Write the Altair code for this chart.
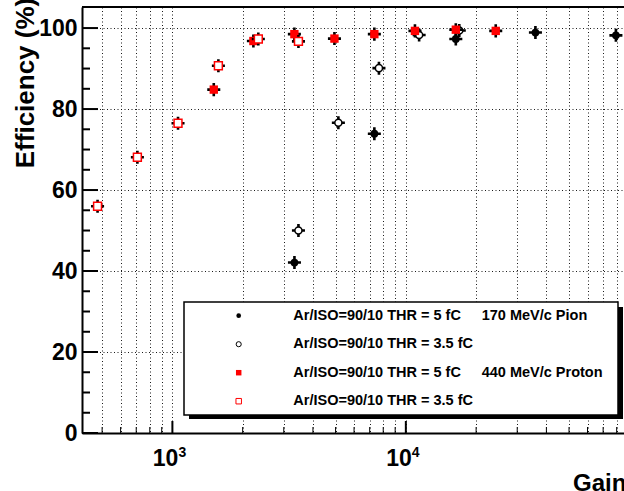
import altair as alt
import pandas as pd

# ---- data ----
pion5_gain = [3333, 7330, 16370, 35900, 79400]
pion5_eff = [42.1, 73.9, 97.3, 98.9, 98.2]
pion35_gain = [3467, 5140, 7670, 11400, 16940]
pion35_eff = [50.0, 76.6, 90.1, 98.3, 99.4]
prot5_gain = [1504, 2223, 3331, 4945, 7330, 10940, 16370, 24270]
prot5_eff = [84.8, 96.8, 98.5, 97.4, 98.5, 99.3, 99.6, 99.3]
prot35_gain = [478, 708, 1057, 1574, 2334, 3467]
prot35_eff = [56.0, 68.1, 76.5, 90.7, 97.3, 96.7]

x_tick_values = [500, 600, 700, 800, 900, 1000, 2000, 3000, 4000, 5000, 6000,
                 7000, 8000, 9000, 10000, 20000, 30000, 40000, 50000, 60000,
                 70000, 80000]
x_label_values = [1000, 10000]
x_label_base = ["10", "10"]
x_label_exp = ["3", "4"]
y_label_values = [0, 20, 40, 60, 80, 100]
y_tick_values = [0, 5, 10, 15, 20, 25, 30, 35, 40, 45, 50, 55, 60, 65, 70, 75,
                 80, 85, 90, 95, 100]
legend_main = ["Ar/ISO=90/10 THR = 5 fC", "Ar/ISO=90/10 THR = 3.5 fC",
               "Ar/ISO=90/10 THR = 5 fC", "Ar/ISO=90/10 THR = 3.5 fC"]
legend_extra = ["170 MeV/c Pion", "", "440 MeV/c Proton", ""]

W, H = 542, 426
FONT = "Liberation Sans"

xscale = alt.Scale(type="log", domain=[410, 86000], nice=False)
yscale = alt.Scale(domain=[0, 105.2], nice=False, zero=False)
xaxis = alt.Axis(values=x_tick_values, labels=False, ticks=False, grid=True,
                 gridDash=[1, 2.5], gridColor="black", gridOpacity=1,
                 gridWidth=0.9,
                 domain=True, domainColor="black", domainWidth=2, title=None)
yaxis = alt.Axis(values=y_label_values, ticks=False, grid=True,
                 gridDash=[1, 2.5], gridColor="black", gridOpacity=1,
                 gridWidth=0.9,
                 domain=True, domainColor="black", domainWidth=2,
                 labelFont=FONT, labelFontWeight="bold", labelFontSize=23,
                 labelColor="black", labelPadding=5, title=None)

CROSS = "M-1,-0.2H1V0.2H-1Z M-0.2,-1H0.2V1H-0.2Z"


def series(gains, effs, shape, fill, stroke, size, sw):
    df = pd.DataFrame({"gain": gains, "eff": effs})
    base = alt.Chart(df).encode(
        x=alt.X("gain:Q", scale=xscale, axis=xaxis),
        y=alt.Y("eff:Q", scale=yscale, axis=yaxis),
    )
    err = base.mark_point(shape=CROSS, filled=True, fill="black", strokeWidth=0,
                          size=170, opacity=1)
    mk = base.mark_point(shape=shape, filled=True, fill=fill, stroke=stroke,
                         strokeWidth=sw, size=size, opacity=1)
    return [err, mk]


# ticks (pointing inward)
xt = alt.Chart(pd.DataFrame({"v": x_tick_values})).transform_calculate(
    major="datum.v == 1000 || datum.v == 10000",
    y0=str(H),
    y1=f"{H} - (datum.major ? 12 : 6)",
    sw="datum.major ? 2 : 1",
).mark_rule(color="black").encode(
    x=alt.X("v:Q", scale=xscale, axis=xaxis),
    y=alt.Y("y0:Q", scale=None),
    y2="y1:Q",
    strokeWidth=alt.StrokeWidth("sw:Q", scale=None),
)

yt = alt.Chart(pd.DataFrame({"v": y_tick_values})).transform_calculate(
    major="datum.v % 20 == 0",
    x0="0",
    x1="datum.major ? 16 : 8",
).mark_rule(color="black", strokeWidth=2).encode(
    y=alt.Y("v:Q", scale=yscale, axis=yaxis),
    x=alt.X("x0:Q", scale=None),
    x2="x1:Q",
)

one = pd.DataFrame({"a": [0]})
top_border = alt.Chart(one).mark_rule(color="black", strokeWidth=2).encode(
    x=alt.value(0), x2=alt.value(W), y=alt.value(0))

# x tick labels 10^n
xl_df = pd.DataFrame({"v": x_label_values, "b": x_label_base, "e": x_label_exp})
xl_base = alt.Chart(xl_df).mark_text(
    align="right", baseline="alphabetic", dx=6, font=FONT, fontWeight="bold",
    fontSize=23, color="black").encode(
    x=alt.X("v:Q", scale=xscale, axis=xaxis), y=alt.value(459), text="b:N")
xl_exp = alt.Chart(xl_df).mark_text(
    align="left", baseline="alphabetic", dx=6, font=FONT, fontWeight="bold",
    fontSize=14, color="black").encode(
    x=alt.X("v:Q", scale=xscale, axis=xaxis), y=alt.value(450), text="e:N")

x_title = alt.Chart(one).mark_text(
    align="left", baseline="alphabetic", font=FONT, fontWeight="bold",
    fontSize=24, color="black", text="Gain").encode(
    x=alt.value(491), y=alt.value(484))
y_title = alt.Chart(one).mark_text(
    align="center", baseline="alphabetic", angle=270, font=FONT,
    fontWeight="bold", fontSize=26, color="black",
    text="Efficiency (%)").encode(x=alt.value(-48), y=alt.value(76))

# legend
LX0, LX1, LY0, LY1 = 102, 536, 295, 408
shadow = alt.Chart(one).mark_rect(color="black").encode(
    x=alt.value(LX0 + 5), x2=alt.value(LX1 + 5),
    y=alt.value(LY0 + 5), y2=alt.value(LY1 + 4))
box = alt.Chart(one).mark_rect(fill="white", stroke="black",
                               strokeWidth=1.5).encode(
    x=alt.value(LX0), x2=alt.value(LX1), y=alt.value(LY0), y2=alt.value(LY1))

leg_styles = [
    dict(shape="circle", fill="black", stroke="black", size=22, sw=0),
    dict(shape="circle", fill="white", stroke="black", size=26, sw=1),
    dict(shape="square", fill="#ff0000", stroke="#ff0000", size=30, sw=0),
    dict(shape="square", fill="white", stroke="#ff0000", size=30, sw=1),
]
leg_layers = []
for i, st in enumerate(leg_styles):
    yy = 308.7 + 28.5 * i
    leg_layers.append(alt.Chart(one).mark_point(
        shape=st["shape"], filled=True, fill=st["fill"], stroke=st["stroke"],
        strokeWidth=st["sw"], size=st["size"], opacity=1).encode(
        x=alt.value(156.7), y=alt.value(yy)))
    leg_layers.append(alt.Chart(one).mark_text(
        align="left", baseline="middle", font=FONT, fontWeight="bold",
        fontSize=14.5, color="black", text=legend_main[i]).encode(
        x=alt.value(211.3), y=alt.value(yy)))
    if legend_extra[i]:
        leg_layers.append(alt.Chart(one).mark_text(
            align="left", baseline="middle", font=FONT, fontWeight="bold",
            fontSize=14.5, color="black", text=legend_extra[i]).encode(
            x=alt.value(399.7), y=alt.value(yy)))

layers = [xt, yt, top_border]
layers += series(pion5_gain, pion5_eff, "circle", "black", "black", 60, 0)
layers += series(pion35_gain, pion35_eff, "circle", "white", "black", 50, 1.5)
layers += series(prot5_gain, prot5_eff, "square", "#ff0000", "#ff0000", 70, 0)
layers += series(prot35_gain, prot35_eff, "square", "white", "#ff0000", 62, 1.5)
layers += [shadow, box] + leg_layers + [xl_base, xl_exp, x_title, y_title]

chart = alt.layer(*layers).properties(
    width=W, height=H,
    autosize=alt.AutoSizeParams(type="none"),
    padding={"left": 82, "top": 7, "right": 0, "bottom": 58},
    background="white",
).configure_view(strokeWidth=0)

chart.save("out.html", embed_options={"renderer": "svg", "actions": False})
